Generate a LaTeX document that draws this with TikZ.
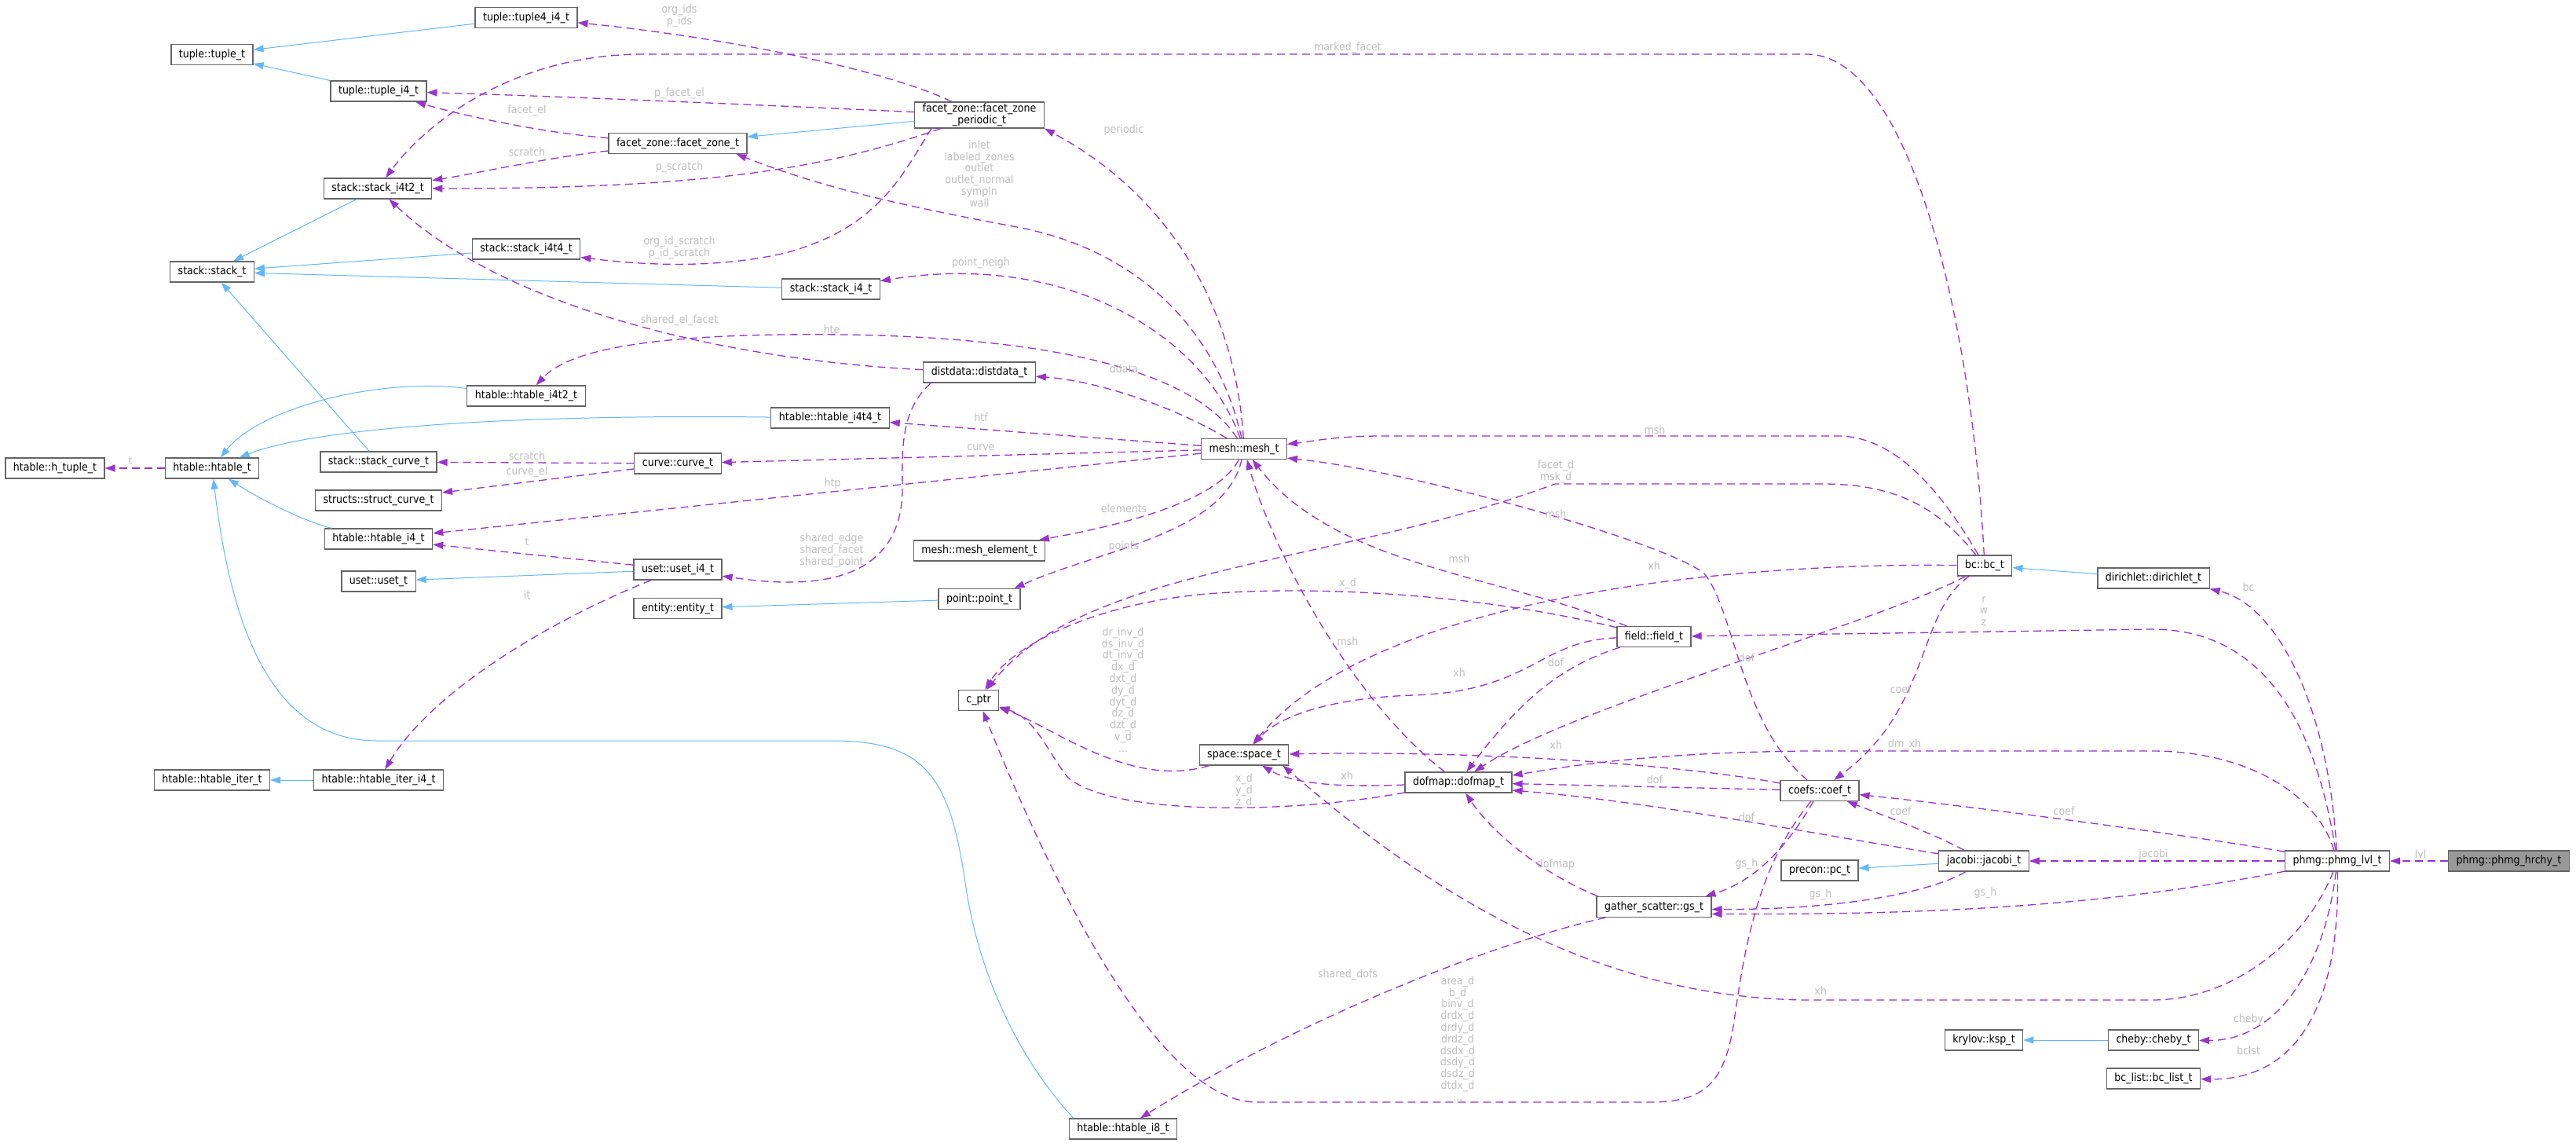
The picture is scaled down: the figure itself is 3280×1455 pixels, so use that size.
\documentclass[tikz,border=0pt]{standalone}
\usepackage{fontspec}
\setmainfont{DejaVu Sans Condensed}
\usepackage{xcolor}
\usepackage{tikz}
\usetikzlibrary{arrows.meta}
\definecolor{boxgray}{HTML}{666666}
\definecolor{rootgray}{HTML}{999999}
\definecolor{usepurple}{HTML}{9A32CD}
\definecolor{inhblue}{HTML}{63B8FF}
\definecolor{labelgray}{HTML}{BEBEBE}
\tikzstyle{classbox} = [rectangle, draw=boxgray, fill=white, line width=1.2pt, minimum height=26pt,
  inner xsep=10pt, inner ysep=2pt, font=\fontsize{14}{15}\selectfont, text=black, align=center]
\tikzstyle{rootbox} = [classbox, fill=rootgray]
\tikzstyle{inharrow} = [draw=inhblue, line width=1pt, -{Triangle[length=13pt,width=9pt]}]
\tikzstyle{usearrow} = [draw=usepurple, line width=1.3pt, dash pattern=on 10pt off 6pt,
  -{Triangle[length=13pt,width=9pt]}]
\tikzstyle{elabel} = [font=\fontsize{14}{14.8}\selectfont, text=labelgray, align=center, inner sep=0pt]

\begin{document}
\begin{tikzpicture}[x=1pt, y=-1pt]
  \useasboundingbox (0,0) rectangle (3280,1455);

  % tuple and stack classes
  \node (tuplefour) [classbox] at (670,22.5) {tuple::tuple4\_i4\_t};
  \node (tuplebase) [classbox] at (270,69.5) {tuple::tuple\_t};
  \node (tuplei4)   [classbox] at (482,116) {tuple::tuple\_i4\_t};
  \node (stacki4t2) [classbox] at (481,240) {stack::stack\_i4t2\_t};
  \node (stacki4t4) [classbox] at (670,317) {stack::stack\_i4t4\_t};
  \node (stackbase) [classbox] at (270,346) {stack::stack\_t};
  \node (stacki4)   [classbox] at (1058,368) {stack::stack\_i4\_t};
  \node (stcurve)   [classbox] at (482,588) {stack::stack\_curve\_t};

  % facet zones, mesh and friends
  \node (fzone) [classbox] at (863,182.5) {facet\_zone::facet\_zone\_t};
  \node (fzper) [classbox] at (1247,146.5) {facet\_zone::facet\_zone\\\_periodic\_t};
  \node (ddata) [classbox] at (1247,474) {distdata::distdata\_t};
  \node (mesh)  [classbox] at (1584,571.5) {mesh::mesh\_t};
  \node (melem) [classbox] at (1247,701) {mesh::mesh\_element\_t};
  \node (point) [classbox] at (1247,762.5) {point::point\_t};
  \node (entity) [classbox] at (863,774.5) {entity::entity\_t};
  \node (curve) [classbox] at (863,590) {curve::curve\_t};
  \node (scurve) [classbox] at (482,637) {structs::struct\_curve\_t};
  \node (cptr)  [classbox] at (1246,891.5) {c\_ptr};

  % hash tables and sets
  \node (htuple)  [classbox] at (70,596) {htable::h\_tuple\_t};
  \node (hbase)   [classbox] at (270,596) {htable::htable\_t};
  \node (hi4t2)   [classbox] at (670,504) {htable::htable\_i4t2\_t};
  \node (hi4t4)   [classbox] at (1057,532) {htable::htable\_i4t4\_t};
  \node (hi4)     [classbox] at (482,686) {htable::htable\_i4\_t};
  \node (usetbase) [classbox] at (482,740) {uset::uset\_t};
  \node (useti4)  [classbox] at (863,725) {uset::uset\_i4\_t};
  \node (hiter)   [classbox] at (270,993) {htable::htable\_iter\_t};
  \node (hiteri4) [classbox] at (482,993) {htable::htable\_iter\_i4\_t};
  \node (hi8)     [classbox] at (1430,1437) {htable::htable\_i8\_t};

  % spectral element side
  \node (field)  [classbox] at (2106,810.5) {field::field\_t};
  \node (space)  [classbox] at (1584,961) {space::space\_t};
  \node (dofmap) [classbox] at (1857,996) {dofmap::dofmap\_t};
  \node (coef)   [classbox] at (2317,1006.5) {coefs::coef\_t};
  \node (gs)     [classbox] at (2106,1154.5) {gather\_scatter::gs\_t};
  \node (pc)     [classbox] at (2317,1108) {precon::pc\_t};
  \node (bc)     [classbox] at (2527,720) {bc::bc\_t};
  \node (dirich) [classbox] at (2742,736) {dirichlet::dirichlet\_t};
  \node (jacobi) [classbox] at (2526,1096) {jacobi::jacobi\_t};
  \node (ksp)    [classbox] at (2526,1324) {krylov::ksp\_t};
  \node (cheby)  [classbox] at (2742,1324) {cheby::cheby\_t};
  \node (bclist) [classbox] at (2742,1373) {bc\_list::bc\_list\_t};
  \node (lvl)    [classbox] at (2976,1096) {phmg::phmg\_lvl\_t};
  \node (hrchy)  [rootbox]  at (3194.5,1096) {phmg::phmg\_hrchy\_t};

  % inheritance
  \draw[inharrow] (tuplefour) -- (tuplebase);
  \draw[inharrow] (tuplei4) -- (tuplebase);
  \draw[inharrow] (stacki4t2) -- (stackbase);
  \draw[inharrow] (stacki4t4) -- (stackbase);
  \draw[inharrow] (stacki4) -- (stackbase);
  \draw[inharrow] (stcurve) -- (stackbase);
  \draw[inharrow] (hi4t2) .. controls (480,480) and (330,520) .. (hbase);
  \draw[inharrow] (hi4t4) .. controls (650,527) and (400,545) .. (hbase);
  \draw[inharrow] (hi4) .. controls (390,665) and (330,635) .. (hbase);
  \draw[inharrow] ([xshift=6pt]hi8.north west) .. controls (1290,1340) and (1245,1230) .. (1230,1130)
    .. controls (1210,990) and (1180,943) .. (1060,943) -- (480,943)
    .. controls (330,943) and (290,760) .. (hbase);
  \draw[inharrow] (useti4) -- (usetbase);
  \draw[inharrow] (point) -- (entity);
  \draw[inharrow] (fzper) -- (fzone);
  \draw[inharrow] (dirich) -- (bc);
  \draw[inharrow] (jacobi) -- (pc);
  \draw[inharrow] (cheby) -- (ksp);
  \draw[inharrow] (hiteri4) -- (hiter);

  % phmg members
  \draw[usearrow] (hrchy) -- (lvl);
  \draw[usearrow] (lvl) -- (jacobi);
  \draw[usearrow] (lvl) .. controls (2800,1065) and (2500,1025) .. (coef);
  \draw[usearrow] (lvl) .. controls (2650,1160) and (2400,1164) .. ([yshift=-9pt]gs.east);
  \draw[usearrow] (lvl) .. controls (2940,1190) and (2850,1273) .. (2740,1273) -- (2300,1273)
    .. controls (2000,1270) and (1780,1100) .. ([xshift=-8pt]space.south east);
  \draw[usearrow] (lvl) .. controls (2960,1230) and (2900,1325) .. (cheby);
  \draw[usearrow] (lvl) .. controls (2980,1270) and (2930,1375) .. (bclist);
  \draw[usearrow] (lvl) .. controls (2965,900) and (2900,770) .. (dirich.south east);
  \draw[usearrow] (lvl) .. controls (2945,900) and (2870,801) .. (2740,801) -- (field);
  \draw[usearrow] (lvl) .. controls (2950,1010) and (2860,956) .. (2740,956) -- (2300,956)
    .. controls (2100,958) and (2000,975) .. ([yshift=9pt]dofmap.east);

  % jacobi and coef members
  \draw[usearrow] (jacobi) .. controls (2460,1060) and (2390,1035) .. (coef);
  \draw[usearrow] (jacobi) .. controls (2300,1060) and (2100,1020) .. ([yshift=-10pt]dofmap.east);
  \draw[usearrow] (jacobi) .. controls (2460,1135) and (2350,1158) .. ([yshift=-3pt]gs.east);
  \draw[usearrow] (coef) -- (dofmap);
  \draw[usearrow] (coef) .. controls (2150,975) and (1900,955) .. (space);
  \draw[usearrow] (coef) .. controls (2215,920) and (2210,780) .. (2170,730)
    .. controls (2120,690) and (1800,600) .. ([yshift=2pt]mesh.south east);
  \draw[usearrow] (coef) .. controls (2280,1070) and (2240,1120) .. ([xshift=-8pt]gs.north east);
  \draw[usearrow] (coef) .. controls (2240,1100) and (2222,1200) .. (2208,1300)
    .. controls (2196,1380) and (2170,1403) .. (2100,1403) -- (1600,1403)
    .. controls (1470,1403) and (1330,1100) .. (cptr);

  % bc members
  \draw[usearrow] (bc) .. controls (2480,640) and (2420,555) .. (2340,555) -- (1760,555)
    .. controls (1700,555) and (1670,562) .. (mesh);
  \draw[usearrow] (bc) .. controls (2510,400) and (2430,69) .. (2300,69) -- (820,69)
    .. controls (650,69) and (540,160) .. (stacki4t2);
  \draw[usearrow] (bc) .. controls (2470,650) and (2420,616) .. (2320,616) -- (1980,616)
    .. controls (1700,720) and (1380,720) .. (cptr);
  \draw[usearrow] (bc) .. controls (2200,716) and (1750,760) .. (space);
  \draw[usearrow] (bc) .. controls (2400,790) and (2000,900) .. (dofmap);
  \draw[usearrow] (bc) .. controls (2440,780) and (2460,900) .. (coef);

  % field, dofmap, gs, space members
  \draw[usearrow] (field) .. controls (1900,730) and (1700,720) .. (mesh);
  \draw[usearrow] (field) .. controls (1900,760) and (1700,745) .. (1550,755)
    .. controls (1400,765) and (1290,820) .. (cptr);
  \draw[usearrow] (field) .. controls (1960,815) and (1950,880) .. (1800,885)
    .. controls (1700,888) and (1630,910) .. (space);
  \draw[usearrow] (field) .. controls (1980,850) and (1930,900) .. (dofmap);
  \draw[usearrow] (dofmap) .. controls (1720,890) and (1620,700) .. (mesh);
  \draw[usearrow] (dofmap) .. controls (1720,1002) and (1650,1000) .. (space);
  \draw[usearrow] (dofmap) .. controls (1650,1035) and (1420,1040) .. (1360,990)
    .. controls (1335,960) and (1320,915) .. (cptr);
  \draw[usearrow] ([xshift=2pt]gs.north west) .. controls (1960,1110) and (1900,1060) .. (dofmap);
  \draw[usearrow] (gs) .. controls (1900,1200) and (1650,1300) .. (hi8);
  \draw[usearrow] (space) .. controls (1440,1005) and (1340,925) .. (cptr);

  % mesh members
  \draw[usearrow] (mesh) .. controls (1575,420) and (1510,260) .. (fzper.south east);
  \draw[usearrow] (mesh) .. controls (1550,420) and (1450,320) .. (1300,290)
    .. controls (1150,262) and (1050,240) .. ([xshift=-14pt]fzone.south east);
  \draw[usearrow] (mesh) .. controls (1530,420) and (1350,320) .. (stacki4);
  \draw[usearrow] (mesh) .. controls (1500,440) and (1200,420) .. (950,427)
    .. controls (800,432) and (720,450) .. (hi4t2);
  \draw[usearrow] (mesh) .. controls (1500,520) and (1400,485) .. (ddata);
  \draw[usearrow] (mesh) -- (hi4t4);
  \draw[usearrow] (mesh) -- (curve);
  \draw[usearrow] (mesh) -- (hi4);
  \draw[usearrow] (mesh) .. controls (1550,640) and (1420,670) .. (melem);
  \draw[usearrow] (mesh) .. controls (1560,680) and (1400,700) .. ([xshift=-8pt]point.north east);

  % distdata, curve, uset, htable members
  \draw[usearrow] (ddata) .. controls (950,460) and (650,400) .. (stacki4t2);
  \draw[usearrow] ([xshift=10pt]ddata.south west) .. controls (1150,520) and (1148,560) .. (1149,620)
    .. controls (1150,760) and (1000,745) .. (useti4);
  \draw[usearrow] (curve) -- (stcurve);
  \draw[usearrow] (curve) -- (scurve);
  \draw[usearrow] (useti4) -- (hi4);
  \draw[usearrow] (useti4) .. controls (700,790) and (550,880) .. (hiteri4);
  \draw[usearrow] (hbase) -- (htuple);

  % facet zone members
  \draw[usearrow] (fzone) .. controls (700,170) and (600,150) .. (tuplei4);
  \draw[usearrow] (fzone) .. controls (700,200) and (600,222) .. (stacki4t2);
  \draw[usearrow] (fzper) .. controls (1000,135) and (700,122) .. (tuplei4);
  \draw[usearrow] (fzper) .. controls (1050,215) and (900,240) .. (stacki4t2);
  \draw[usearrow] ([xshift=22pt]fzper.south west) .. controls (1150,220) and (1120,290) .. (1000,322)
    .. controls (900,345) and (800,335) .. ([yshift=3pt]stacki4t4.south east);
  \draw[usearrow] (fzper) .. controls (1120,85) and (900,45) .. (tuplefour);

  % edge labels
  \node (lLvl)    [elabel] at (3082,1087) {lvl};
  \node (lJacobi) [elabel] at (2742,1088) {jacobi};
  \node (lCoefA)  [elabel] at (2628,1032) {coef};
  \node (lGsA)    [elabel] at (2528,1137) {gs\_h};
  \node (lGsB)    [elabel] at (2318,1139) {gs\_h};
  \node (lXhA)    [elabel] at (2318,1261) {xh};
  \node (lCheby)  [elabel] at (2863,1298) {cheby};
  \node (lBclst)  [elabel] at (2863,1337) {bclst};
  \node (lBc)     [elabel] at (2863,747) {bc};
  \node (lRwz)    [elabel] at (2526,778) {r\\w\\z};
  \node (lDmxh)   [elabel] at (2425,948) {dm\_xh};
  \node (lCoefB)  [elabel] at (2420,1032) {coef};
  \node (lDofA)   [elabel] at (2224,1040) {dof};
  \node (lDofB)   [elabel] at (2107,992) {dof};
  \node (lXhB)    [elabel] at (1981,948) {xh};
  \node (lMshA)   [elabel] at (1981,654) {msh};
  \node (lMshB)   [elabel] at (2107,547) {msh};
  \node (lMarked) [elabel] at (1716,61) {marked\_facet};
  \node (lFacetd) [elabel] at (1981,600) {facet\_d\\msk\_d};
  \node (lXdA)    [elabel] at (1716,743) {x\_d};
  \node (lMshC)   [elabel] at (1858,711) {msh};
  \node (lMshD)   [elabel] at (1716,816) {msh};
  \node (lDrinv)  [elabel] at (1430,878) {dr\_inv\_d\\ds\_inv\_d\\dt\_inv\_d\\dx\_d\\dxt\_d\\dy\_d\\dyt\_d\\dz\_d\\dzt\_d\\v\_d\\...};
  \node (lXyz)    [elabel] at (1584,1007) {x\_d\\y\_d\\z\_d};
  \node (lArea)   [elabel] at (1856,1322) {area\_d\\b\_d\\binv\_d\\drdx\_d\\drdy\_d\\drdz\_d\\dsdx\_d\\dsdy\_d\\dsdz\_d\\dtdx\_d\\...};
  \node (lXhC)    [elabel] at (2106,720) {xh};
  \node (lXhD)    [elabel] at (1858,856) {xh};
  \node (lDofC)   [elabel] at (1981,843) {dof};
  \node (lDofD)   [elabel] at (2224,837) {dof};
  \node (lCoefC)  [elabel] at (2420,877) {coef};
  \node (lGsC)    [elabel] at (2224,1100) {gs\_h};
  \node (lDofmap) [elabel] at (1981,1101) {dofmap};
  \node (lShdofs) [elabel] at (1716,1241) {shared\_dofs};
  \node (lXhE)    [elabel] at (1715,987) {xh};
  \node (lPeriod) [elabel] at (1431,166) {periodic};
  \node (lInlet)  [elabel] at (1247,221) {inlet\\labeled\_zones\\outlet\\outlet\_normal\\sympln\\wall};
  \node (lPneigh) [elabel] at (1249,335) {point\_neigh};
  \node (lHte)    [elabel] at (1059,419) {hte};
  \node (lDdata)  [elabel] at (1431,469) {ddata};
  \node (lShelf)  [elabel] at (865,408) {shared\_el\_facet};
  \node (lShared) [elabel] at (1059,701) {shared\_edge\\shared\_facet\\shared\_point};
  \node (lHtf)    [elabel] at (1249,531) {htf};
  \node (lCurve)  [elabel] at (1249,570) {curve};
  \node (lHtp)    [elabel] at (1060,616) {htp};
  \node (lElems)  [elabel] at (1431,647) {elements};
  \node (lPoints) [elabel] at (1431,696) {points};
  \node (lScrA)   [elabel] at (671,580) {scratch};
  \node (lCurvel) [elabel] at (671,601) {curve\_el};
  \node (lTA)     [elabel] at (671,690) {t};
  \node (lIt)     [elabel] at (671,757) {it};
  \node (lTB)     [elabel] at (166,587) {t};
  \node (lFacetel) [elabel] at (671,141) {facet\_el};
  \node (lScrB)   [elabel] at (671,193) {scratch};
  \node (lPfacet) [elabel] at (865,119) {p\_facet\_el};
  \node (lPscr)   [elabel] at (865,213) {p\_scratch};
  \node (lOrgscr) [elabel] at (865,315) {org\_id\_scratch\\p\_id\_scratch};
  \node (lOrgids) [elabel] at (865,20) {org\_ids\\p\_ids};
\end{tikzpicture}
\end{document}
